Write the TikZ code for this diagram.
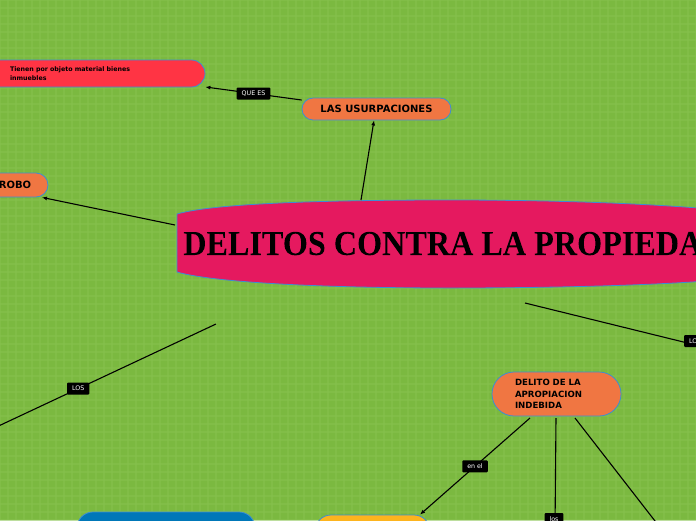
\documentclass[tikz,border=0pt]{standalone}
\usepackage{fontspec}
\setmainfont{Liberation Serif}
\setsansfont{DejaVu Sans}
\usepackage{tikz}
\usetikzlibrary{positioning, arrows.meta, calc}

\definecolor{bggreen}{HTML}{7BB940}
\definecolor{gridgreen}{HTML}{86C24E}
\definecolor{edgeblue}{HTML}{3D8ED2}
\definecolor{redbox}{HTML}{FF3444}
\definecolor{orangebox}{HTML}{F07642}
\definecolor{mainpink}{HTML}{E5195F}
\definecolor{bluebox}{HTML}{0077B8}
\definecolor{yellowbox}{HTML}{FDB41E}

\begin{document}
\begin{tikzpicture}[
      x=1pt, y=-1pt,
      box/.style={
        draw=edgeblue,
        line width=0.8pt,
        fill=orangebox,
        font=\sffamily\bfseries\fontsize{10}{12}\selectfont,
        inner sep=0pt
      },
      tag/.style={
        fill=black,
        text=white,
        rounded corners=1pt,
        font=\sffamily\fontsize{6.3}{7}\selectfont,
        inner xsep=5pt,
        inner ysep=0pt,
        minimum height=12pt
      },
      arrow/.style={
        -{Latex[length=5pt,width=4pt]},
        line width=1.1pt
      },
      line/.style={
        line width=1.1pt
      }
    ]

    \useasboundingbox (0,0) rectangle (696,520);
    \clip (0,0) rectangle (696,520);
    \fill[bggreen] (0,0) rectangle (696,520);
    \foreach \k in {0,8,...,696}
      \draw[gridgreen, line width=1.2pt, opacity=0.55] (\k,0) -- (\k,520);
    \foreach \k in {0,8,...,520}
      \draw[gridgreen, line width=1.2pt, opacity=0.55] (0,\k) -- (696,\k);

    \fill[mainpink, draw=edgeblue, line width=0.8pt]
      (177,272) -- (177,214)
      .. controls (215,203) and (330,200) .. (450,200)
      .. controls (560,200) and (660,204) .. (720,210)
      -- (720,280)
      .. controls (660,285) and (560,288) .. (450,288)
      .. controls (330,288) and (215,283) .. (177,272) -- cycle;

    \node[anchor=base west, inner sep=0pt, xscale=0.92,
          draw=black, line width=0.5pt, draw opacity=0,
          font=\bfseries\fontsize{35}{40}\selectfont] (title) at (183,255)
      {\special{pdf:literal 2 Tr 0.9 w}DELITOS CONTRA LA PROPIEDAD\special{pdf:literal 0 Tr}};

    \node[box, fill=redbox, rounded corners=13.5pt,
          minimum width=220pt, minimum height=27pt,
          text width=170pt, inner xsep=25pt, align=left,
          font=\sffamily\bfseries\fontsize{6.3}{8.5}\selectfont] (inmuebles) at (95,73.5)
      {Tienen por objeto material bienes\\inmuebles};

    \node[box, rounded corners=11pt,
          minimum width=149pt, minimum height=22pt] (usurpaciones) at (376.5,109)
      {LAS USURPACIONES};

    \node[box, rounded corners=12pt,
          minimum width=66pt, minimum height=24pt] (robo) at (15,185)
      {ROBO};

    \node[box, rounded corners=22pt,
          minimum width=129pt, minimum height=44pt,
          text width=83pt, inner xsep=23pt, align=left,
          font=\sffamily\bfseries\fontsize{8.6}{11.2}\selectfont] (apropiacion) at (556.5,394)
      {DELITO DE LA\\APROPIACION\\INDEBIDA};

    \node[box, fill=bluebox, rounded corners=16pt,
          minimum width=178pt, minimum height=48pt] (bloque) at (166,536) {};

    \node[box, fill=yellowbox, rounded corners=16pt,
          minimum width=115pt, minimum height=45pt] (cuerpo) at (372.5,537.5) {};

    \coordinate (m1) at (361,200);
    \coordinate (m2) at (175,225);
    \coordinate (m3) at (525,303);
    \coordinate (m4) at (216,324);
    \coordinate (lo) at (720,351);
    \coordinate (los) at (-10,430);
    \coordinate (a1) at (530,418);
    \coordinate (a2) at (556,418);
    \coordinate (a3) at (575,418);
    \coordinate (b2) at (555,530);
    \coordinate (b3) at (662,530);

    \draw[arrow] (m1) -- (usurpaciones.south -| 374,0);

    \draw[arrow]
      (usurpaciones.west |- 0,100) --
      node[tag] {QUE ES}
      (inmuebles.east |- 0,87);

    \draw[arrow] (m2) -- (robo.south east -| 42,0);

    \draw[line] (m3) -- (lo);
    \node[tag, anchor=west] at (684,341) {LOS};

    \draw[line] (m4) -- node[tag, pos=0.61] {LOS} (los);

    \draw[arrow] (a1) -- node[tag, pos=0.5] {en el} (cuerpo.north -| 420,0);

    \draw[line] (a2) -- (b2);
    \node[tag] at (554,519) {los};

    \draw[line] (a3) -- (b3);

    \end{tikzpicture}
\end{document}
